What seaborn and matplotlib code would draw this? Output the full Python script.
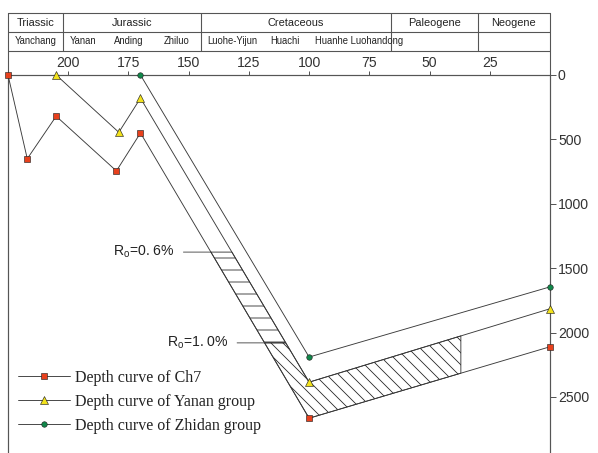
import numpy as np
import pandas as pd
import matplotlib
matplotlib.use("Agg")
import matplotlib.pyplot as plt
import matplotlib.transforms as mtransforms
import seaborn as sns

# ---------------- data ----------------
ch7_age = [225, 217, 205, 180, 170, 100, 0]
ch7_depth = [0, 650, 320, 745, 450, 2665, 2110]
yanan_age = [205, 179, 170, 100, 0]
yanan_depth = [0, 445, 180, 2385, 1815]
zhidan_age = [170, 100, 0]
zhidan_depth = [0, 2190, 1645]
series_labels = ["Depth curve of Ch7", "Depth curve of Yanan group",
                 "Depth curve of Zhidan group"]

age_ticks = [200, 175, 150, 125, 100, 75, 50, 25]
depth_ticks = [0, 500, 1000, 1500, 2000, 2500]

periods = ["Triassic", "Jurassic", "Cretaceous", "Paleogene", "Neogene"]
period_bounds = [225, 202, 145, 66, 30, 0]
formations = ["Yanchang", "Yanan", "Anding", "Zhiluo", "Luohe-Yijun", "Huachi",
              "Huanhe Luohandong"]
formation_ages = [213.6, 194, 175, 155, 132, 110, 97.5]

ro_labels = ["0. 6%", "1. 0%"]
ro_depths = [1375, 2080]
hatch_end_age = 37

# ---------------- figure ----------------
sns.set_style("white")
plt.rcParams["font.family"] = ["Liberation Sans", "DejaVu Sans"]
plt.rcParams["hatch.linewidth"] = 0.8

W, H, DPI = 598, 453, 72
fig = plt.figure(figsize=(W / DPI, H / DPI), dpi=DPI)
AX_L, AX_R, AX_T = 8, 550, 75
ax = fig.add_axes([AX_L / W, 0, (AX_R - AX_L) / W, (H - AX_T) / H])
ax.set_xlim(225, 0)
ax.set_ylim(2935, 0)

line_col = "#3a3a3a"
specs = [
    (ch7_age, ch7_depth, "s", "#e8401c", 6.5),
    (yanan_age, yanan_depth, "^", "#f2e21c", 7.5),
    (zhidan_age, zhidan_depth, "o", "#10884a", 5.5),
]
handles = []
for (ages, depths, mk, fc, ms), lab in zip(specs, series_labels):
    df = pd.DataFrame({"age": ages, "depth": depths})
    n0 = len(ax.lines)
    sns.lineplot(data=df, x="age", y="depth", ax=ax, sort=False, estimator=None,
                 color=line_col, lw=0.9, marker=mk, markersize=ms,
                 markerfacecolor=fc, markeredgecolor="#222", markeredgewidth=0.6,
                 clip_on=False, zorder=5, legend=False)
    handles.append(ax.lines[n0])

# ---------------- hatched maturity zones ----------------
# horizontal hatch between Ro=0.6% and Ro=1.0% on descending limb (Ch7 - Yanan)
dd = np.linspace(ro_depths[0], ro_depths[1], 60)
c_lim = np.interp(dd, ch7_depth[4:6], ch7_age[4:6])
y_lim = np.interp(dd, yanan_depth[2:4], yanan_age[2:4])
ax.fill_betweenx(dd, c_lim, y_lim, facecolor="none", edgecolor="#222",
                 hatch="-", lw=0.8, zorder=2)

# diagonal hatch below Ro=1.0%
ac10 = np.interp(ro_depths[1], ch7_depth[4:6], ch7_age[4:6])
ay10 = np.interp(ro_depths[1], yanan_depth[2:4], yanan_age[2:4])
y_end = np.interp(hatch_end_age, yanan_age[3:][::-1], yanan_depth[3:][::-1])
c_end = np.interp(hatch_end_age, ch7_age[5:][::-1], ch7_depth[5:][::-1])
px = [ay10, yanan_age[3], hatch_end_age, hatch_end_age, ch7_age[5], ac10]
py = [ro_depths[1], yanan_depth[3], y_end, c_end, ch7_depth[5], ro_depths[1]]
ax.fill(px, py, facecolor="none", edgecolor="#222", hatch="\\\\", lw=0.8, zorder=2)

for lab, d in zip(ro_labels, ro_depths):
    a = np.interp(d, ch7_depth[4:6], ch7_age[4:6])
    ax.annotate("R$_\\mathregular{o}$=" + lab, xy=(a, d), xytext=(-36, 0),
                textcoords="offset points", ha="right", va="center",
                fontsize=14, color="#222",
                arrowprops=dict(arrowstyle="-", lw=0.8, color="#333",
                                shrinkA=6, shrinkB=0))

# ---------------- axes styling ----------------
spine_col = "#555"
for s in ["top", "left", "right"]:
    ax.spines[s].set_visible(True)
    ax.spines[s].set_color(spine_col)
    ax.spines[s].set_linewidth(1.2)
ax.spines["bottom"].set_visible(False)
ax.xaxis.tick_top()
ax.yaxis.tick_right()
ax.set_xticks(age_ticks)
ax.set_yticks(depth_ticks)
ax.tick_params(axis="x", direction="out", length=4, width=1, color=spine_col,
               labelsize=14, labelcolor="#333", pad=1)
ax.tick_params(axis="y", direction="out", length=6, width=1, color=spine_col,
               labelsize=14, labelcolor="#333", pad=2)
ax.set_xlabel("")
ax.set_ylabel("")

# ---------------- header table ----------------
trans = mtransforms.blended_transform_factory(ax.transData, ax.transAxes)
AX_H = H - AX_T


def yf(py_px):
    return 1 + (AX_T - py_px) / AX_H


hl = dict(color=spine_col, lw=1.1, transform=trans, clip_on=False)
for ypx in [13, 32, 51]:
    ax.plot([period_bounds[0], period_bounds[-1]], [yf(ypx)] * 2, **hl)
for b in [period_bounds[0], period_bounds[-1]]:
    ax.plot([b, b], [yf(13), 1], **hl)
for b in period_bounds[1:-1]:
    ax.plot([b, b], [yf(13), yf(51)], **hl)

for i, name in enumerate(periods):
    xc = (period_bounds[i] + period_bounds[i + 1]) / 2
    ax.text(xc, yf(22.5), name, transform=trans, ha="center", va="center",
            fontsize=11, color="#222")
for name, a in zip(formations, formation_ages):
    ha = "left" if name.startswith("Huanhe") else "center"
    ax.text(a, yf(41.5), name, transform=trans, ha=ha, va="center",
            fontsize=9.5, color="#222")

# ---------------- legend ----------------
leg = ax.legend(handles=handles, labels=series_labels, loc="upper left",
                bbox_to_anchor=(18 / W, 1 - 370 / H), bbox_transform=fig.transFigure,
                frameon=False, handlelength=3.25, handletextpad=0.3,
                labelspacing=0.5, borderpad=0, borderaxespad=0, numpoints=1,
                prop={"family": "Liberation Serif", "size": 16})
for t in leg.get_texts():
    t.set_color("#222")

fig.savefig("out.png", dpi=DPI)
